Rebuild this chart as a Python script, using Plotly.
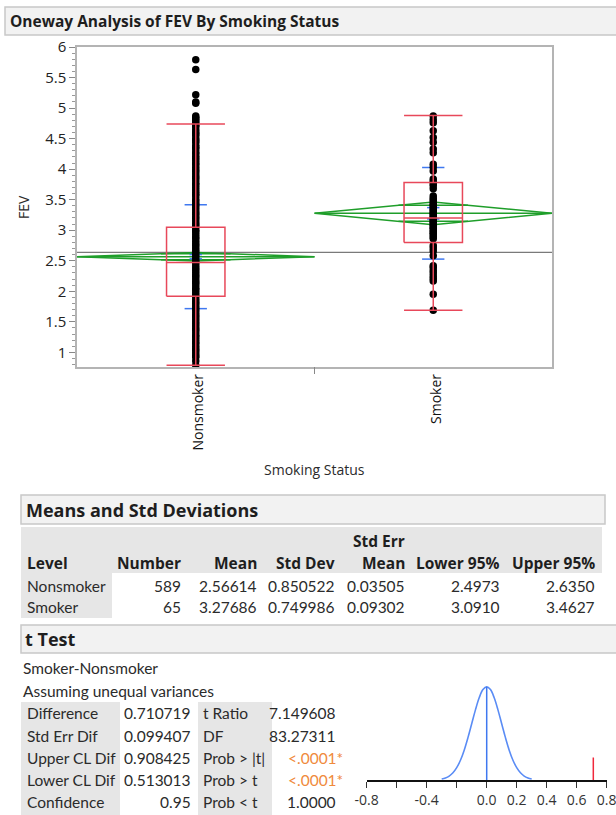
import plotly.graph_objects as go

W, H = 616, 815
A, B = 0.0, 1.0
def px(x): return (x - A) / B / W
def py(y): return 1 - (y - A) / B / H
def fs(s): return s / B

# ---------------- data ----------------
levels = ["Nonsmoker", "Smoker"]
numbers = [589, 65]
means = [2.56614, 3.27686]
std_devs = [0.850522, 0.749986]
std_errs = [0.03505, 0.09302]
lower95 = [2.4973, 3.0910]
upper95 = [2.6350, 3.4627]
q1 = [1.92, 2.80]
medians = [2.47, 3.20]
q3 = [3.05, 3.78]
whisker_lo = [0.79, 1.69]
whisker_hi = [4.74, 4.88]

nonsmoker_fev = [5.79, 5.63, 5.22, 5.10, 5.08, 4.87, 4.84, 4.82, 4.79, 4.76, 4.72, 4.70, 4.65, 4.61,
                 4.58, 4.55, 4.50, 4.47, 4.44, 4.39, 4.36, 4.33, 4.28, 4.25, 4.21, 4.18, 4.14, 4.10,
                 4.07, 4.03, 3.99, 3.96, 3.92, 3.88, 3.85, 3.81, 3.77, 3.74, 3.70, 3.66, 3.62, 3.59,
                 3.56, 3.51, 3.48, 3.44, 3.41, 3.37, 3.33, 3.29, 3.26, 3.22, 3.19, 3.15, 3.11, 3.08,
                 3.04, 3.00, 2.97, 2.93, 2.89, 2.86, 2.82, 2.78, 2.75, 2.71, 2.67, 2.64, 2.60, 2.57,
                 2.53, 2.49, 2.46, 2.42, 2.38, 2.35, 2.31, 2.27, 2.24, 2.20, 2.16, 2.13, 2.09, 2.05,
                 2.02, 1.98, 1.94, 1.91, 1.87, 1.83, 1.80, 1.76, 1.72, 1.69, 1.65, 1.61, 1.58, 1.54,
                 1.50, 1.47, 1.43, 1.39, 1.36, 1.32, 1.28, 1.25, 1.21, 1.17, 1.14, 1.10, 1.06, 1.03,
                 0.99, 0.95, 0.92, 0.86, 0.79]
smoker_fev = [4.87, 4.81, 4.76, 4.63, 4.52, 4.44, 4.33, 4.27, 4.08, 4.03, 3.97, 3.84, 3.80, 3.76,
              3.73, 3.68, 3.56, 3.52, 3.49, 3.45, 3.42, 3.40, 3.37, 3.34, 3.32, 3.29, 3.27, 3.25,
              3.22, 3.20, 3.17, 3.15, 3.13, 3.10, 3.08, 3.05, 3.03, 3.00, 2.97, 2.95, 2.92, 2.89,
              2.86, 2.75, 2.71, 2.66, 2.58, 2.42, 2.39, 2.34, 2.30, 2.25, 2.21, 2.17, 1.95, 1.69]

means_header = ["Level", "Number", "Mean", "Std Dev", "Mean", "Lower 95%", "Upper 95%"]
means_rows = [["Nonsmoker", "589", "2.56614", "0.850522", "0.03505", "2.4973", "2.6350"],
              ["Smoker", "65", "3.27686", "0.749986", "0.09302", "3.0910", "3.4627"]]

ttest_labels1 = ["Difference", "Std Err Dif", "Upper CL Dif", "Lower CL Dif", "Confidence"]
ttest_values1 = ["0.710719", "0.099407", "0.908425", "0.513013", "0.95"]
ttest_labels2 = ["t Ratio", "DF", "Prob > |t|", "Prob > t", "Prob < t"]
ttest_values2 = ["7.149608", "83.27311", "<.0001*", "<.0001*", "1.0000"]
difference = 0.710719

dist_x = [-0.30, -0.275, -0.25, -0.225, -0.20, -0.175, -0.15, -0.125, -0.10, -0.075, -0.05, -0.025, 0.0,
          0.025, 0.05, 0.075, 0.10, 0.125, 0.15, 0.175, 0.20, 0.225, 0.25, 0.275, 0.30]
dist_h = [0.011, 0.022, 0.042, 0.077, 0.132, 0.212, 0.320, 0.454, 0.603, 0.752, 0.881, 0.969, 1.0,
          0.969, 0.881, 0.752, 0.603, 0.454, 0.320, 0.212, 0.132, 0.077, 0.042, 0.022, 0.011]
diff_mark_h = 0.24
axis_ticks_small = [-0.8, -0.6, -0.4, -0.2, 0.0, 0.2, 0.4, 0.6, 0.8]
axis_ticktext_small = ["-0.8", "", "-0.4", "", "0.0", "0.2", "0.4", "0.6", "0.8"]

# ---------------- styles ----------------
FONT = "Open Sans"
FONT_REG = "Lato"
RED = "#e8485a"
BLUE = "#3f78f0"
GREEN = "#1f9e2a"
TXT = "#2b2b2b"
HDR = "#1e1e1e"
CELL = "#e6e6e6"

fig = go.Figure()

# grand mean
grand_mean = sum(n * m for n, m in zip(numbers, means)) / sum(numbers)
fig.add_trace(go.Scatter(x=[-0.5, 1.5], y=[grand_mean, grand_mean], mode="lines",
                         line=dict(color="#7a7a7a", width=1.3), hoverinfo="skip"))

# mean diamonds
gx, gy = [], []
for i in range(2):
    c = i
    gx += [c - 0.5, c, c + 0.5, c, c - 0.5, None, c - 0.5, c + 0.5, None]
    gy += [means[i], upper95[i], means[i], lower95[i], means[i], None, means[i], means[i], None]
    half = (upper95[i] - lower95[i]) / 2 / (2 ** 0.5)
    w = 0.5 * (1 - 1 / (2 ** 0.5))
    for s in (1, -1):
        gx += [c - w, c + w, None]
        gy += [means[i] + s * half, means[i] + s * half, None]
fig.add_trace(go.Scatter(x=gx, y=gy, mode="lines", line=dict(color=GREEN, width=1.5), hoverinfo="skip"))

# std dev and std err lines
bx, by = [], []
for i in range(2):
    c = i
    for s in (1, -1):
        v = means[i] + s * std_devs[i]
        bx += [c - 0.047, c + 0.047, None]
        by += [v, v, None]
        v = means[i] + s * std_errs[i]
        bx += [c - 0.026, c + 0.026, None]
        by += [v, v, None]
    bx += [c, c, None]
    by += [means[i] - std_errs[i], means[i] + std_errs[i], None]
fig.add_trace(go.Scatter(x=bx, y=by, mode="lines", line=dict(color=BLUE, width=1.5), hoverinfo="skip"))

# points
fig.add_trace(go.Scatter(x=[0] * len(nonsmoker_fev), y=nonsmoker_fev, mode="markers",
                         marker=dict(color="black", size=7.5), hoverinfo="skip"))
fig.add_trace(go.Scatter(x=[1] * len(smoker_fev), y=smoker_fev, mode="markers",
                         marker=dict(color="black", size=7.5), hoverinfo="skip"))

# box plots
rx, ry = [], []
hw = 0.123
for i in range(2):
    c = i
    rx += [c - hw, c + hw, c + hw, c - hw, c - hw, None]
    ry += [q1[i], q1[i], q3[i], q3[i], q1[i], None]
    rx += [c - hw, c + hw, None]
    ry += [medians[i], medians[i], None]
    rx += [c, c, None, c, c, None]
    ry += [q3[i], whisker_hi[i], None, q1[i], whisker_lo[i], None]
    rx += [c - hw, c + hw, None, c - hw, c + hw, None]
    ry += [whisker_hi[i], whisker_hi[i], None, whisker_lo[i], whisker_lo[i], None]
fig.add_trace(go.Scatter(x=rx, y=ry, mode="lines", line=dict(color=RED, width=1.5), hoverinfo="skip"))

# t-test distribution
fig.add_trace(go.Scatter(x=dist_x, y=dist_h, mode="lines", line=dict(color="#5a8cf5", width=1.6, shape="spline"),
                         xaxis="x2", yaxis="y2", hoverinfo="skip"))
fig.add_trace(go.Scatter(x=[0, 0], y=[0, max(dist_h)], mode="lines", line=dict(color=BLUE, width=1.5),
                         xaxis="x2", yaxis="y2", hoverinfo="skip"))
fig.add_trace(go.Scatter(x=[difference, difference], y=[0, diff_mark_h], mode="lines",
                         line=dict(color="#f0283c", width=1.5), xaxis="x2", yaxis="y2", hoverinfo="skip"))

shapes = []
annotations = []

def rect(x0, y0, x1, y1, fill, line=None, lw=0):
    shapes.append(dict(type="rect", xref="paper", yref="paper", x0=px(x0), x1=px(x1), y0=py(y1), y1=py(y0),
                       fillcolor=fill, line=dict(color=line or fill, width=lw), layer="below"))

def text(t, x, y, anchor="left", size=15.5, bold=False, color=TXT, angle=0, yanchor="middle", family=None):
    annotations.append(dict(text=("<b>%s</b>" % t) if bold else t, x=px(x), y=py(y), xref="paper", yref="paper",
                            xanchor=anchor, yanchor=yanchor, showarrow=False, textangle=angle,
                            font=dict(family=family or (FONT if bold else FONT_REG), size=fs(size), color=color)))

# title bar
rect(5, 7, 640, 35, "#f2f2f2", "#c8c8c8", 1.5)
text("Oneway Analysis of FEV By Smoking Status", 8, 21, size=15.5, bold=True, color=HDR)

# axis titles and category labels
text("FEV", 24, 207, anchor="center", size=14, angle=-90, family=FONT)
text("Smoking Status", 314, 469, anchor="center", size=14, family=FONT)
for i, lv in enumerate(levels):
    text(lv, 197 + i * 238, 372, anchor="center", size=14, angle=-90, yanchor="top", color="#111", family=FONT)
shapes.append(dict(type="line", xref="x", yref="paper", x0=0.5, x1=0.5, y0=py(367), y1=py(374),
                   line=dict(color="#888", width=1)))

# Means and Std Deviations
rect(21, 495, 605, 524, "#f2f2f2", "#c8c8c8", 1.5)
text("Means and Std Deviations", 24, 510, size=18, bold=True, color=HDR)
rect(21, 527, 602, 573, CELL)
rect(21, 573, 112, 618, CELL)
col_right = [None, 183, 259, 337, 407, 502, 597]
text("Std Err", 407, 541, anchor="right", bold=True, color=HDR)
for j, h in enumerate(means_header):
    if j == 0:
        text(h, 25, 563, bold=True, color=HDR)
    else:
        text(h, col_right[j], 563, anchor="right", bold=True, color=HDR)
for r, row in enumerate(means_rows):
    yy = 585.5 + r * 21.5
    for j, v in enumerate(row):
        if j == 0:
            text(v, 25, yy)
        else:
            text(v, col_right[j], yy, anchor="right")

# t Test
rect(21, 625, 640, 653, "#f2f2f2", "#c8c8c8", 1.5)
text("t Test", 23, 639, size=18, bold=True, color=HDR)
text("Smoker-Nonsmoker", 21, 668)
text("Assuming unequal variances", 21, 691)
rect(21, 702, 120, 840, CELL)
rect(198, 702, 272, 840, CELL)
row_y = [713, 735.5, 758, 780, 802]
for k in range(5):
    yy = row_y[k]
    text(ttest_labels1[k], 25, yy)
    text(ttest_values1[k], 193, yy, anchor="right")
    text(ttest_labels2[k], 201, yy)
    star = ttest_values2[k].endswith("*")
    text(ttest_values2[k], 345 if star else 338, yy, anchor="right",
         color="#f08a3c" if ttest_values2[k].startswith("<") else TXT)

fig.update_layout(
    width=W, height=H, margin=dict(l=0, r=0, t=0, b=0, autoexpand=False),
    paper_bgcolor="white", plot_bgcolor="white", showlegend=False,
    xaxis=dict(domain=[px(77), px(552)], range=[-0.5, 1.5], showticklabels=False, ticks="",
               showgrid=False, zeroline=False, showline=True, linecolor="#b4b4b4", linewidth=1.5, mirror=True,
               anchor="y", automargin=False),
    yaxis=dict(domain=[py(367), py(47)], range=[0.76, 6.0], tick0=0, dtick=0.5, ticks="outside", ticklen=6,
               tickcolor="#888", showgrid=False, zeroline=False, showline=True, linecolor="#b4b4b4",
               linewidth=1.5, mirror=True, tickfont=dict(family=FONT, size=fs(15), color="#222"),
               minor=dict(dtick=0.1, ticks="outside", ticklen=3, tickcolor="#999"), anchor="x",
               automargin=False),
    xaxis2=dict(domain=[px(366.7), px(606.7)], range=[-0.8, 0.8], tickvals=axis_ticks_small,
                ticktext=axis_ticktext_small, ticks="outside", ticklen=6, tickcolor="#333",
                showline=True, linecolor="#111", linewidth=2, showgrid=False, zeroline=False,
                ticklabeloverflow="allow", automargin=False,
                tickfont=dict(family=FONT, size=fs(14), color="#333"), anchor="y2"),
    yaxis2=dict(domain=[py(780), py(680)], range=[0, 1.072], visible=False, anchor="x2", automargin=False),
    shapes=shapes, annotations=annotations,
)

post = ("document.documentElement.style.margin='0';document.documentElement.style.padding='0';"
        "document.documentElement.style.overflow='hidden';"
        "document.body.style.margin='0';document.body.style.padding='0';document.body.style.overflow='hidden';"
        "var d=document.getElementById('{plot_id}');d.style.position='fixed';d.style.left='0px';d.style.top='0px';")
fig.write_html("out.html", config={"displayModeBar": False}, post_script=post)
